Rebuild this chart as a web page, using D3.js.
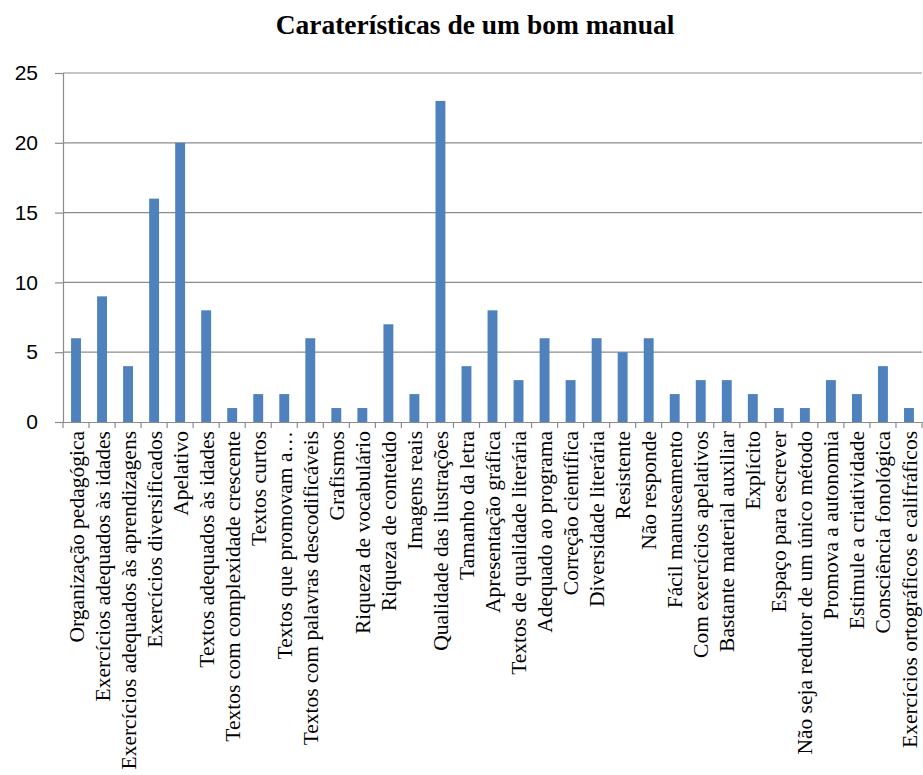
<!DOCTYPE html>
<html>
<head>
<meta charset="utf-8">
<script src="https://cdn.jsdelivr.net/npm/d3@7"></script>
<style>
  body { margin: 0; background: #fff; }
</style>
</head>
<body>
<svg></svg>
<script>
var categories = [
  "Organização pedagógica", "Exercícios adequados às idades",
  "Exercícios adequados às aprendizagens", "Exercícios diversificados",
  "Apelativo", "Textos adequados às idades", "Textos com complexidade crescente",
  "Textos curtos", "Textos que promovam a…", "Textos com palavras descodificáveis",
  "Grafismos", "Riqueza de vocabulário", "Riqueza de conteúdo", "Imagens reais",
  "Qualidade das ilustrações", "Tamanho da letra", "Apresentação gráfica",
  "Textos de qualidade literária", "Adequado ao programa", "Correção científica",
  "Diversidade literária", "Resistente", "Não responde", "Fácil manuseamento",
  "Com exercícios apelativos", "Bastante material auxiliar", "Explícito",
  "Espaço para escrever", "Não seja redutor de um único método",
  "Promova a autonomia", "Estimule a criatividade", "Consciência fonológica",
  "Exercícios ortográficos e califráficos"
];
var values = [6, 9, 4, 16, 20, 8, 1, 2, 2, 6, 1, 1, 7, 2, 23, 4, 8, 3, 6, 3, 6, 5, 6, 2, 3, 3, 2, 1, 1, 3, 2, 4, 1];
var yTicks = [0, 5, 10, 15, 20, 25];
var title = "Caraterísticas de um bom manual";

var margin = {top: 73, right: 1, bottom: 353, left: 63};
var width = 923, height = 775;
var visWidth = width - margin.left - margin.right;
var visHeight = height - margin.top - margin.bottom;

var svg = d3.select("svg")
    .attr("width", width)
    .attr("height", height);

svg.append("text")
    .attr("x", 475)
    .attr("y", 34)
    .attr("text-anchor", "middle")
    .style("font-family", "'Liberation Serif', 'Times New Roman', serif")
    .style("font-weight", "bold")
    .style("font-size", "27.5px")
    .text(title);

var g = svg.append("g")
    .attr("transform", "translate(" + margin.left + "," + margin.top + ")");

var x = d3.scaleBand()
    .domain(categories)
    .range([0, visWidth])
    .paddingInner(0.62)
    .paddingOuter(0.31);

var xBand = d3.scaleBand()
    .domain(categories)
    .range([0, visWidth]);

var y = d3.scaleLinear()
    .domain([0, 25])
    .range([visHeight, 0]);

// gridlines
g.selectAll(".grid")
    .data(yTicks.filter(function(d) { return d > 0; }))
    .enter().append("line")
    .attr("class", "grid")
    .attr("x1", 0)
    .attr("x2", visWidth)
    .attr("y1", function(d) { return y(d); })
    .attr("y2", function(d) { return y(d); })
    .attr("stroke", "#8c8c8c")
    .attr("stroke-width", 1.2);

// bars
g.selectAll(".bar")
    .data(values)
    .enter().append("rect")
    .attr("class", "bar")
    .attr("x", function(d, i) { return x(categories[i]); })
    .attr("y", function(d) { return y(d); })
    .attr("width", x.bandwidth())
    .attr("height", function(d) { return y(0) - y(d); })
    .attr("fill", "#4f81bd");

// y axis
var yAxis = g.append("g")
    .call(d3.axisLeft(y).tickValues(yTicks).tickSize(8).tickPadding(17));
yAxis.select(".domain").attr("stroke", "#8c8c8c").attr("stroke-width", 1.2);
yAxis.selectAll(".tick line").attr("stroke", "#8c8c8c").attr("stroke-width", 1.2);
yAxis.selectAll("text")
    .style("font-family", "'Liberation Sans', Arial, sans-serif")
    .style("font-size", "21px")
    .attr("fill", "#000");

// x axis
var xAxis = g.append("g")
    .attr("transform", "translate(0," + visHeight + ")")
    .call(d3.axisBottom(xBand).tickSize(0).tickSizeOuter(0));
xAxis.select(".domain").attr("stroke", "#8c8c8c").attr("stroke-width", 1.2);

// category boundary ticks
xAxis.selectAll(".sep")
    .data(categories.concat(["end"]))
    .enter().append("line")
    .attr("class", "sep")
    .attr("x1", function(d, i) { return i * xBand.step(); })
    .attr("x2", function(d, i) { return i * xBand.step(); })
    .attr("y1", 0)
    .attr("y2", 6)
    .attr("stroke", "#8c8c8c")
    .attr("stroke-width", 1.2);

xAxis.selectAll(".tick text")
    .attr("transform", "rotate(-90)")
    .attr("text-anchor", "end")
    .attr("x", -9)
    .attr("y", 0)
    .attr("dy", "0.35em")
    .attr("fill", "#000")
    .style("font-family", "'Liberation Serif', 'Times New Roman', serif")
    .style("font-size", "21.5px");
</script>
</body>
</html>
